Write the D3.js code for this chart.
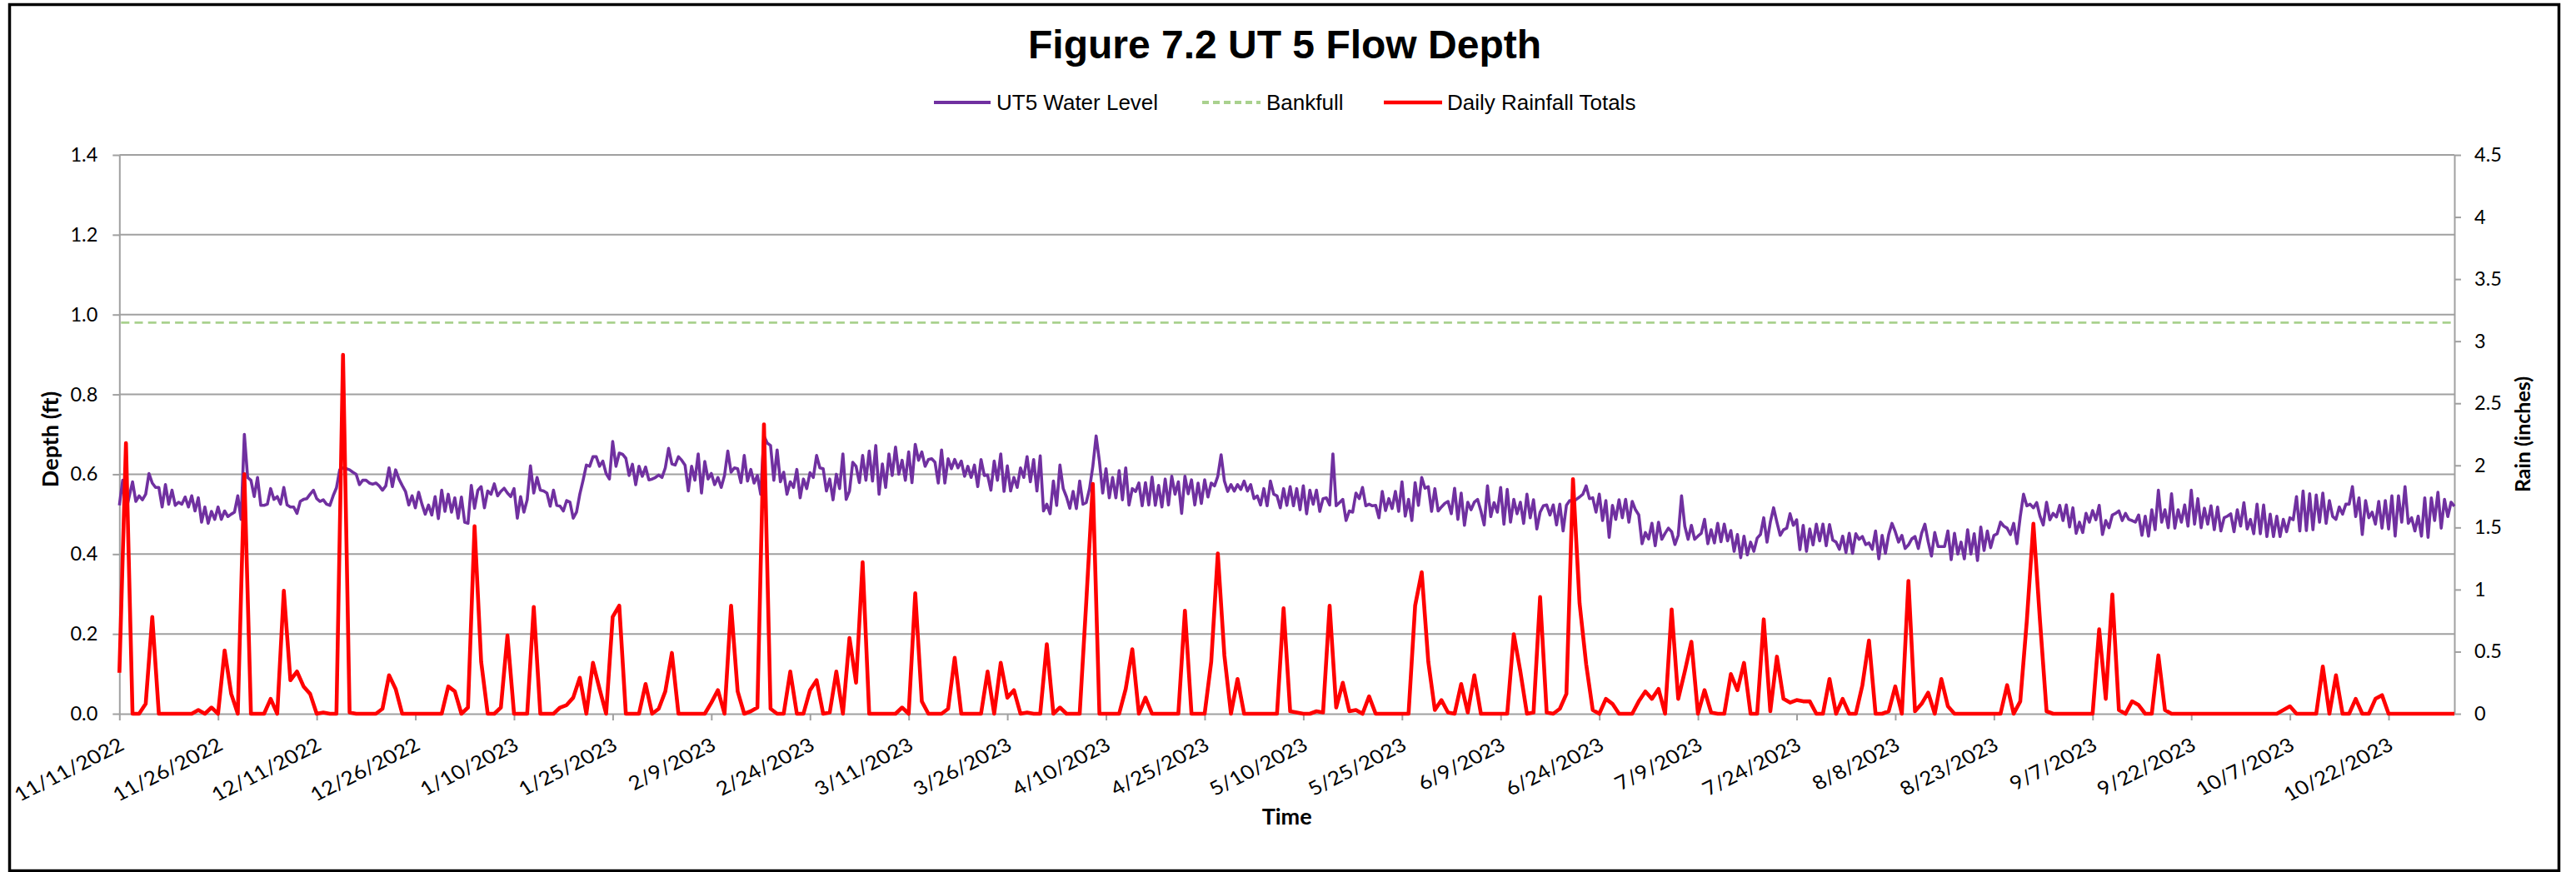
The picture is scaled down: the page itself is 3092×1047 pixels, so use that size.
<!DOCTYPE html>
<html>
<head>
<meta charset="utf-8">
<script src="https://cdn.jsdelivr.net/npm/d3@7/dist/d3.min.js"></script>
<style>
  html, body { margin: 0; padding: 0; background: #ffffff; }
  svg { display: block; }
</style>
</head>
<body>
<svg id="chart" width="3092" height="1047"></svg>
<script>
// ---------- data ----------
const chartTitle = "Figure 7.2 UT 5 Flow Depth";
const seriesNames = ["UT5 Water Level", "Bankfull", "Daily Rainfall Totals"];
const axisTitles = { x: "Time", depth: "Depth (ft)", rain: "Rain (inches)" };

const startDate = Date.UTC(2022, 10, 11);   // 11/11/2022
const endDate   = Date.UTC(2023, 10, 1);    // 11/1/2023
const tickStepDays = 15;

const depthTicks = [0, 0.2, 0.4, 0.6, 0.8, 1.0, 1.2, 1.4];
const rainTicks  = [0, 0.5, 1, 1.5, 2, 2.5, 3, 3.5, 4, 4.5];

const bankfullFt = 0.98;

// UT5 water level (ft), two readings per day (00:00 and 12:00) from 11/11/2022
const levelFt = [
  0.522,0.585,0.508,0.545,0.581,0.532,0.546,0.536,0.55,0.602,
  0.578,0.567,0.567,0.518,0.574,0.525,0.56,0.522,0.53,0.525,
  0.543,0.518,0.546,0.508,0.541,0.48,0.518,0.477,0.507,0.487,
  0.518,0.487,0.508,0.494,0.5,0.505,0.546,0.487,0.70,0.592,
  0.585,0.544,0.592,0.522,0.522,0.525,0.564,0.537,0.544,0.525,
  0.567,0.523,0.518,0.518,0.502,0.532,0.537,0.539,0.55,0.56,
  0.539,0.532,0.536,0.525,0.522,0.546,0.566,0.611,0.616,0.614,
  0.611,0.605,0.60,0.574,0.585,0.585,0.578,0.575,0.578,0.571,
  0.56,0.571,0.616,0.569,0.611,0.588,0.572,0.557,0.523,0.546,
  0.516,0.555,0.525,0.50,0.523,0.498,0.544,0.489,0.56,0.507,
  0.55,0.505,0.541,0.49,0.543,0.48,0.477,0.572,0.515,0.56,
  0.569,0.516,0.558,0.55,0.576,0.546,0.557,0.565,0.553,0.544,
  0.564,0.49,0.544,0.505,0.536,0.621,0.553,0.592,0.56,0.558,
  0.553,0.52,0.56,0.522,0.52,0.508,0.534,0.53,0.49,0.505,
  0.55,0.585,0.623,0.62,0.644,0.644,0.62,0.633,0.602,0.588,
  0.682,0.62,0.653,0.65,0.64,0.597,0.625,0.574,0.62,0.595,
  0.618,0.586,0.588,0.592,0.598,0.592,0.616,0.665,0.626,0.623,
  0.644,0.635,0.623,0.558,0.62,0.585,0.651,0.553,0.632,0.588,
  0.602,0.574,0.592,0.567,0.597,0.658,0.605,0.616,0.614,0.579,
  0.647,0.583,0.612,0.578,0.597,0.55,0.696,0.678,0.672,0.585,
  0.661,0.581,0.605,0.55,0.581,0.567,0.612,0.541,0.588,0.564,
  0.604,0.592,0.647,0.616,0.614,0.558,0.588,0.536,0.60,0.564,
  0.651,0.537,0.558,0.63,0.62,0.579,0.647,0.585,0.658,0.583,
  0.672,0.55,0.626,0.567,0.651,0.597,0.668,0.60,0.635,0.585,
  0.656,0.579,0.675,0.635,0.656,0.62,0.637,0.639,0.63,0.578,
  0.661,0.578,0.639,0.614,0.637,0.616,0.633,0.595,0.62,0.592,
  0.623,0.569,0.637,0.597,0.598,0.56,0.633,0.585,0.651,0.557,
  0.621,0.558,0.592,0.567,0.616,0.592,0.644,0.581,0.637,0.558,
  0.646,0.508,0.525,0.501,0.583,0.522,0.623,0.564,0.543,0.515,
  0.557,0.514,0.583,0.525,0.529,0.564,0.62,0.696,0.633,0.553,
  0.614,0.541,0.592,0.541,0.609,0.536,0.616,0.523,0.564,0.557,
  0.578,0.521,0.579,0.523,0.593,0.522,0.572,0.518,0.588,0.523,
  0.595,0.55,0.581,0.502,0.595,0.551,0.586,0.523,0.578,0.527,
  0.586,0.543,0.578,0.571,0.595,0.649,0.583,0.557,0.574,0.558,
  0.574,0.562,0.583,0.558,0.574,0.539,0.546,0.523,0.564,0.521,
  0.583,0.55,0.546,0.516,0.564,0.522,0.569,0.521,0.564,0.511,
  0.571,0.501,0.56,0.525,0.56,0.507,0.539,0.541,0.523,0.651,
  0.521,0.529,0.537,0.484,0.508,0.505,0.553,0.539,0.567,0.521,
  0.525,0.521,0.522,0.491,0.557,0.509,0.539,0.514,0.557,0.507,
  0.581,0.495,0.537,0.484,0.579,0.522,0.592,0.565,0.569,0.507,
  0.564,0.508,0.518,0.527,0.532,0.501,0.565,0.487,0.553,0.472,
  0.53,0.511,0.53,0.537,0.508,0.473,0.571,0.494,0.529,0.505,
  0.567,0.475,0.562,0.48,0.537,0.501,0.53,0.477,0.55,0.491,
  0.536,0.463,0.505,0.521,0.523,0.498,0.523,0.473,0.525,0.458,
  0.522,0.534,0.532,0.537,0.543,0.55,0.571,0.539,0.541,0.505,
  0.55,0.484,0.534,0.442,0.522,0.487,0.536,0.491,0.537,0.48,
  0.532,0.511,0.498,0.426,0.454,0.438,0.477,0.421,0.48,0.437,
  0.452,0.465,0.456,0.424,0.447,0.546,0.47,0.437,0.472,0.437,
  0.445,0.452,0.487,0.426,0.461,0.428,0.477,0.431,0.475,0.433,
  0.459,0.407,0.449,0.391,0.445,0.398,0.43,0.407,0.44,0.449,
  0.491,0.43,0.48,0.516,0.48,0.447,0.461,0.465,0.501,0.472,
  0.486,0.411,0.472,0.407,0.463,0.423,0.475,0.433,0.475,0.421,
  0.474,0.435,0.43,0.412,0.445,0.404,0.452,0.402,0.451,0.437,
  0.444,0.424,0.428,0.412,0.458,0.388,0.447,0.402,0.449,0.477,
  0.456,0.43,0.447,0.414,0.423,0.438,0.444,0.414,0.452,0.475,
  0.431,0.395,0.454,0.419,0.419,0.419,0.458,0.386,0.452,0.40,
  0.43,0.388,0.461,0.40,0.451,0.384,0.468,0.409,0.458,0.416,
  0.447,0.451,0.48,0.47,0.465,0.449,0.477,0.426,0.494,0.55,
  0.521,0.525,0.516,0.529,0.495,0.473,0.53,0.486,0.502,0.493,
  0.522,0.484,0.523,0.468,0.516,0.452,0.48,0.454,0.502,0.48,
  0.509,0.486,0.522,0.449,0.484,0.466,0.498,0.502,0.508,0.484,
  0.502,0.487,0.484,0.48,0.498,0.447,0.495,0.445,0.511,0.461,
  0.56,0.48,0.511,0.466,0.551,0.465,0.511,0.48,0.523,0.47,
  0.56,0.475,0.539,0.466,0.515,0.475,0.521,0.461,0.518,0.458,
  0.491,0.495,0.501,0.456,0.511,0.47,0.529,0.463,0.487,0.451,
  0.525,0.451,0.523,0.444,0.50,0.444,0.495,0.444,0.487,0.456,
  0.491,0.486,0.544,0.458,0.558,0.459,0.551,0.461,0.548,0.48,
  0.553,0.477,0.534,0.494,0.487,0.518,0.50,0.525,0.525,0.569,
  0.494,0.541,0.449,0.534,0.491,0.505,0.475,0.532,0.465,0.534,
  0.463,0.546,0.445,0.546,0.48,0.569,0.477,0.491,0.458,0.495,
  0.445,0.541,0.442,0.541,0.484,0.555,0.465,0.537,0.494,0.53,
  0.52
];

// Daily rainfall totals (inches) from 11/11/2022 to 11/1/2023
const rainIn = [
  0.33,2.18,0,0,0.08,0.78,0,0,0,0,
  0,0,0.03,0,0.05,0,0.51,0.16,0,1.93,
  0,0,0,0.12,0,0.99,0.27,0.34,0.22,0.16,
  0,0.01,0,0,2.89,0.01,0,0,0,0,
  0.04,0.31,0.2,0,0,0,0,0,0,0,
  0.22,0.18,0,0.05,1.51,0.42,0,0,0.05,0.63,
  0,0,0,0.86,0,0,0,0.05,0.07,0.13,
  0.29,0,0.41,0.2,0,0.78,0.87,0,0,0,
  0.24,0,0.04,0.18,0.49,0,0,0,0,0,
  0.09,0.19,0,0.87,0.18,0,0.02,0.05,2.33,0.04,
  0,0,0.34,0,0,0.19,0.27,0,0.01,0.34,
  0,0.61,0.25,1.22,0,0,0,0,0,0.05,
  0,0.97,0.10,0,0,0,0.04,0.45,0,0,
  0,0,0.34,0,0.41,0.13,0.19,0,0.01,0,
  0,0.56,0,0.05,0,0,0,0.9,1.85,0,
  0,0,0,0.2,0.52,0,0.13,0,0,0,
  0,0,0.83,0,0,0,0.42,1.29,0.47,0,
  0.28,0,0,0,0,0,0,0.85,0.02,0.01,
  0,0,0.02,0.01,0.87,0.05,0.25,0.02,0.03,0,
  0.14,0,0,0,0,0,0,0.87,1.14,0.42,
  0.03,0.11,0.01,0,0.24,0.01,0.31,0,0,0,
  0,0,0.64,0.34,0,0.01,0.94,0.01,0,0.04,
  0.16,1.89,0.89,0.40,0.03,0,0.12,0.08,0,0,
  0,0.10,0.18,0.12,0.20,0,0.84,0.12,0.34,0.58,
  0,0.19,0.01,0,0,0.32,0.19,0.41,0,0,
  0.76,0.02,0.46,0.12,0.09,0.11,0.10,0.10,0,0,
  0.28,0,0.12,0,0,0.23,0.59,0,0,0.02,
  0.22,0,1.07,0.02,0.08,0.17,0,0.28,0.06,0,
  0,0,0,0,0,0,0,0.23,0,0.10,
  0.75,1.53,0.75,0.02,0,0,0,0,0,0,
  0,0.68,0.12,0.96,0.03,0,0.10,0.07,0,0,
  0.47,0.03,0,0,0,0,0,0,0,0,
  0,0,0,0,0,0,0,0,0,0.03,
  0.06,0,0,0,0,0.38,0,0.31,0,0,
  0.12,0,0,0.12,0.15,0,0,0,0,0,
  0,0,0,0,0,0
];

// ---------- layout ----------
const W = 3092, H = 1047;
const plot = { left: 143.3, right: 2946, top: 186, bottom: 857 };
const colors = {
  level: "#7030A0",
  bankfull: "#A9D18E",
  rain: "#FF0000",
  grid: "#A0A0A0",
  text: "#000000"
};
const labelFont = "Lato, 'Open Sans', sans-serif";
const HOUR = 3600 * 1000, DAY = 24 * HOUR;

const svg = d3.select("#chart");
svg.append("rect").attr("width", W).attr("height", H).attr("fill", "#fff");

const x = d3.scaleUtc().domain([startDate, endDate]).range([plot.left, plot.right]);
const yDepth = d3.scaleLinear().domain([0, 1.4]).range([plot.bottom, plot.top]);
const yRain = d3.scaleLinear().domain([0, 4.5]).range([plot.bottom, plot.top]);

// horizontal gridlines on the depth axis
svg.append("g").selectAll("line")
  .data(depthTicks.filter(d => d > 0))
  .join("line")
  .attr("x1", plot.left).attr("x2", plot.right)
  .attr("y1", d => yDepth(d)).attr("y2", d => yDepth(d))
  .attr("stroke", colors.grid).attr("stroke-width", 2);

// axes
const tickDates = d3.range(0, 355, tickStepDays).map(k => new Date(startDate + k * DAY));
const fmtDate = d => `${d.getUTCMonth() + 1}/${d.getUTCDate()}/${d.getUTCFullYear()}`;

function styleAxis(g, size) {
  g.select(".domain").attr("stroke", colors.grid).attr("stroke-width", 2);
  g.selectAll(".tick line").attr("stroke", colors.grid).attr("stroke-width", 2);
  g.selectAll(".tick text").attr("fill", colors.text)
    .style("font-family", labelFont).style("font-size", size + "px");
}

const xAxis = svg.append("g")
  .attr("transform", `translate(0,${plot.bottom})`)
  .call(d3.axisBottom(x).tickValues(tickDates).tickFormat(fmtDate).tickSize(8).tickSizeOuter(0))
  .call(styleAxis, 23);
// slanted date labels, slightly widened
xAxis.selectAll(".tick text")
  .attr("x", 0).attr("y", 0).attr("dy", 0)
  .attr("transform", "translate(7,42) scale(1.15,1) rotate(-30)")
  .style("text-anchor", "end");

svg.append("g")
  .attr("transform", `translate(${plot.left},0)`)
  .call(d3.axisLeft(yDepth).tickValues(depthTicks).tickFormat(d3.format(".1f"))
    .tickSize(8).tickPadding(18).tickSizeOuter(0))
  .call(styleAxis, 23.5);

svg.append("g")
  .attr("transform", `translate(${plot.right},0)`)
  .call(d3.axisRight(yRain).tickValues(rainTicks).tickFormat(d => String(d))
    .tickSize(8).tickPadding(16).tickSizeOuter(0))
  .call(styleAxis, 23.5);

// series
const levelLine = d3.line()
  .x((d, i) => x(startDate + i * 12 * HOUR))
  .y(d => yDepth(d));
const rainLine = d3.line()
  .x((d, i) => x(startDate + i * DAY))
  .y(d => yRain(d));

svg.append("path").datum(levelFt)
  .attr("d", levelLine)
  .attr("fill", "none").attr("stroke", colors.level)
  .attr("stroke-width", 3.6).attr("stroke-linejoin", "round");

svg.append("line")
  .attr("x1", plot.left + 2).attr("x2", plot.right)
  .attr("y1", yDepth(bankfullFt)).attr("y2", yDepth(bankfullFt))
  .attr("stroke", colors.bankfull).attr("stroke-width", 2.8)
  .attr("stroke-dasharray", "10 6.2");

svg.append("path").datum(rainIn)
  .attr("d", rainLine)
  .attr("fill", "none").attr("stroke", colors.rain)
  .attr("stroke-width", 4.6).attr("stroke-linejoin", "round");

// titles
svg.append("text")
  .attr("x", 1542).attr("y", 70)
  .attr("text-anchor", "middle")
  .style("font-family", "'Liberation Sans', Arial, sans-serif")
  .style("font-weight", "bold").style("font-size", "48px")
  .text(chartTitle);

svg.append("text")
  .attr("x", (plot.left + plot.right) / 2).attr("y", 990)
  .attr("text-anchor", "middle")
  .style("font-family", labelFont).style("font-weight", "bold").style("font-size", "27px")
  .text(axisTitles.x);

svg.append("text")
  .attr("transform", `translate(70,${(plot.top + plot.bottom) / 2 + 6}) rotate(-90)`)
  .attr("text-anchor", "middle")
  .style("font-family", labelFont).style("font-weight", "bold").style("font-size", "27px")
  .text(axisTitles.depth);

svg.append("text")
  .attr("transform", `translate(3037,${(plot.top + plot.bottom) / 2}) rotate(-90)`)
  .attr("text-anchor", "middle")
  .style("font-family", labelFont).style("font-weight", "bold").style("font-size", "25px")
  .text(axisTitles.rain);

// legend
const legendItems = [
  { name: seriesNames[0], color: colors.level, dash: null, width: 4, x0: 1121, x1: 1189, tx: 1196 },
  { name: seriesNames[1], color: colors.bankfull, dash: "8 5", width: 4, x0: 1443, x1: 1513, tx: 1520 },
  { name: seriesNames[2], color: colors.rain, dash: null, width: 4.4, x0: 1661, x1: 1731, tx: 1737 }
];
const legendY = 123;
const lg = svg.append("g");
legendItems.forEach(it => {
  lg.append("line")
    .attr("x1", it.x0).attr("x2", it.x1).attr("y1", legendY).attr("y2", legendY)
    .attr("stroke", it.color).attr("stroke-width", it.width)
    .attr("stroke-dasharray", it.dash);
  lg.append("text")
    .attr("x", it.tx).attr("y", legendY + 9)
    .style("font-family", "'Liberation Sans', Arial, sans-serif").style("font-size", "26px")
    .text(it.name);
});

// outer frame
svg.append("rect")
  .attr("x", 11.5).attr("y", 5.5).attr("width", 3060).attr("height", 1040)
  .attr("fill", "none").attr("stroke", "#000").attr("stroke-width", 3.5);
</script>
</body>
</html>
